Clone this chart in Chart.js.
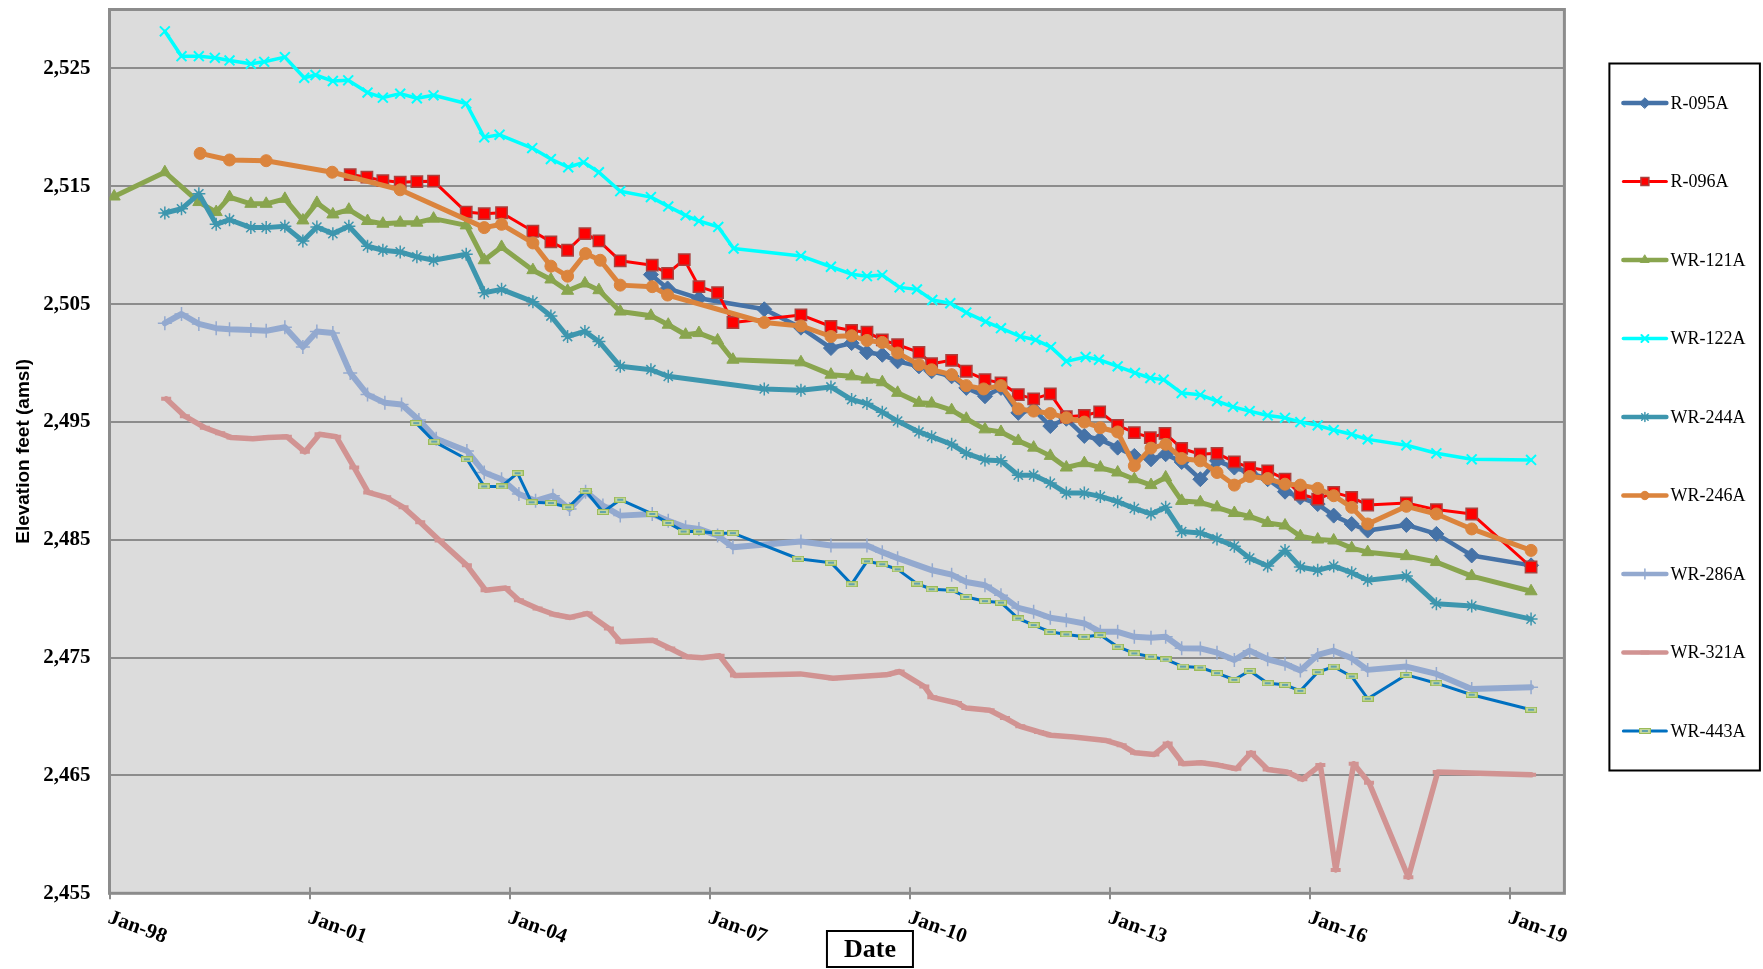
<!DOCTYPE html>
<html>
<head>
<meta charset="utf-8">
<script src="https://cdn.jsdelivr.net/npm/chart.js@4.4.1/dist/chart.umd.min.js"></script>
<style>
  html, body { margin: 0; padding: 0; background: #fff; }
  #wrap { width: 1763px; height: 969px; }
</style>
</head>
<body>
<div id="wrap"><canvas id="elevChart" width="1763" height="969"></canvas></div>
<script>
// axis ticks
const xTickYears = [1998, 2001, 2004, 2007, 2010, 2013, 2016, 2019];
const yTicks = [2455, 2465, 2475, 2485, 2495, 2505, 2515, 2525];
const seriesNames = ['R-095A', 'R-096A', 'WR-121A', 'WR-122A', 'WR-244A', 'WR-246A', 'WR-286A', 'WR-321A', 'WR-443A'];

// dates are decimal years, values are feet amsl
const r095aDates = [2006.12, 2006.37, 2006.84, 2007.82, 2008.37, 2008.82, 2009.13, 2009.36, 2009.59, 2009.82, 2010.14, 2010.33, 2010.63, 2010.85, 2011.13, 2011.37, 2011.63, 2011.86, 2012.11, 2012.35, 2012.62, 2012.85, 2013.12, 2013.37, 2013.62, 2013.84, 2014.08, 2014.36, 2014.61, 2014.87, 2015.10, 2015.37, 2015.63, 2015.86, 2016.12, 2016.36, 2016.63, 2016.87, 2017.45, 2017.90, 2018.43, 2019.32];
const r095aValues = [2507.5, 2506.33, 2505.49, 2504.56, 2503.0, 2501.27, 2501.69, 2500.91, 2500.7, 2500.14, 2499.72, 2499.3, 2498.87, 2497.89, 2497.18, 2497.89, 2495.77, 2496.06, 2494.65, 2495.27, 2493.81, 2493.52, 2492.82, 2492.12, 2491.83, 2492.26, 2491.6, 2490.14, 2491.7, 2491.13, 2490.71, 2490.14, 2489.08, 2488.6, 2488.03, 2487.05, 2486.34, 2485.78, 2486.26, 2485.5, 2483.67, 2482.83];

const r096aDates = [2001.61, 2001.86, 2002.10, 2002.36, 2002.61, 2002.86, 2003.35, 2003.62, 2003.88, 2004.35,
  2004.62, 2004.87, 2005.13, 2005.34, 2005.66, 2006.14, 2006.37, 2006.62, 2006.84, 2007.12,
  2007.35, 2008.37, 2008.82, 2009.13, 2009.36, 2009.59, 2009.82, 2010.14, 2010.33, 2010.63,
  2010.85, 2011.13, 2011.37, 2011.63, 2011.86, 2012.11, 2012.35, 2012.62, 2012.85, 2013.12,
  2013.37, 2013.61, 2013.83, 2014.08, 2014.36, 2014.61, 2014.87, 2015.10, 2015.37, 2015.63,
  2015.86, 2016.12, 2016.36, 2016.63, 2016.87, 2017.45, 2017.90, 2018.43, 2019.32];
const r096aValues = [2515.99, 2515.77, 2515.48, 2515.35, 2515.40, 2515.43, 2512.81, 2512.67, 2512.75, 2511.18,
  2510.28, 2509.57, 2510.98, 2510.36, 2508.67, 2508.30, 2507.60, 2508.78, 2506.48, 2505.97,
  2503.44, 2504.08, 2503.10, 2502.76, 2502.62, 2501.97, 2501.55, 2500.90, 2499.94, 2500.23,
  2499.30, 2498.59, 2498.31, 2497.32, 2496.96, 2497.38, 2495.44, 2495.55, 2495.86, 2494.71,
  2494.09, 2493.67, 2494.03, 2492.75, 2492.26, 2492.34, 2491.61, 2491.13, 2490.85, 2490.14,
  2488.88, 2488.45, 2489.02, 2488.60, 2487.95, 2488.12, 2487.56, 2487.19, 2482.69];

const wr121aDates = [1998.07, 1998.83, 1999.34, 1999.60, 1999.80, 2000.12, 2000.35, 2000.63, 2000.90, 2001.11,
  2001.35, 2001.59, 2001.87, 2002.10, 2002.36, 2002.61, 2002.86, 2003.35, 2003.62, 2003.88,
  2004.35, 2004.62, 2004.87, 2005.13, 2005.34, 2005.66, 2006.12, 2006.38, 2006.64, 2006.84,
  2007.12, 2007.35, 2008.37, 2008.82, 2009.13, 2009.36, 2009.59, 2009.82, 2010.14, 2010.33,
  2010.63, 2010.85, 2011.13, 2011.37, 2011.63, 2011.86, 2012.11, 2012.35, 2012.62, 2012.86,
  2013.12, 2013.37, 2013.62, 2013.84, 2014.08, 2014.36, 2014.61, 2014.87, 2015.10, 2015.37,
  2015.63, 2015.86, 2016.12, 2016.36, 2016.63, 2016.87, 2017.45, 2017.90, 2018.43, 2019.32];
const wr121aValues = [2514.13, 2516.19, 2513.66, 2512.81, 2514.08, 2513.51, 2513.51, 2513.93, 2512.10, 2513.59,
  2512.61, 2513.01, 2512.05, 2511.82, 2511.91, 2511.91, 2512.25, 2511.68, 2508.72, 2509.85,
  2507.88, 2507.09, 2506.13, 2506.75, 2506.18, 2504.37, 2504.01, 2503.25, 2502.40, 2502.54,
  2501.92, 2500.28, 2500.06, 2499.01, 2498.87, 2498.59, 2498.37, 2497.47, 2496.62, 2496.56,
  2496.00, 2495.27, 2494.37, 2494.15, 2493.39, 2492.82, 2492.12, 2491.13, 2491.50, 2491.13,
  2490.71, 2490.14, 2489.64, 2490.29, 2488.30, 2488.18, 2487.75, 2487.27, 2486.99, 2486.43,
  2486.21, 2485.30, 2485.02, 2484.94, 2484.29, 2483.95, 2483.61, 2483.11, 2481.92, 2480.63];

const wr122aDates = [1998.83, 1999.08, 1999.34, 1999.58, 1999.80, 2000.12, 2000.32, 2000.63, 2000.92, 2001.09,
  2001.35, 2001.58, 2001.87, 2002.10, 2002.36, 2002.61, 2002.86, 2003.35, 2003.62, 2003.85,
  2004.34, 2004.62, 2004.88, 2005.11, 2005.34, 2005.66, 2006.12, 2006.38, 2006.64, 2006.84,
  2007.13, 2007.36, 2008.37, 2008.82, 2009.13, 2009.36, 2009.59, 2009.85, 2010.11, 2010.34,
  2010.61, 2010.85, 2011.14, 2011.37, 2011.66, 2011.89, 2012.12, 2012.35, 2012.64, 2012.84,
  2013.12, 2013.38, 2013.61, 2013.81, 2014.08, 2014.36, 2014.61, 2014.85, 2015.10, 2015.37,
  2015.63, 2015.86, 2016.12, 2016.36, 2016.63, 2016.87, 2017.45, 2017.90, 2018.43, 2019.32];
const wr122aValues = [2528.15, 2526.04, 2526.04, 2525.90, 2525.68, 2525.39, 2525.56, 2525.96, 2524.21, 2524.44,
  2523.93, 2523.99, 2522.95, 2522.52, 2522.86, 2522.47, 2522.72, 2522.02, 2519.15, 2519.37,
  2518.24, 2517.31, 2516.61, 2517.03, 2516.19, 2514.58, 2514.08, 2513.29, 2512.53, 2512.05,
  2511.55, 2509.71, 2509.09, 2508.17, 2507.54, 2507.37, 2507.46, 2506.42, 2506.25, 2505.35,
  2505.07, 2504.28, 2503.52, 2502.96, 2502.25, 2501.97, 2501.35, 2500.14, 2500.51, 2500.28,
  2499.72, 2499.16, 2498.73, 2498.59, 2497.45, 2497.30, 2496.77, 2496.28, 2495.92, 2495.55,
  2495.35, 2494.99, 2494.71, 2494.31, 2493.95, 2493.52, 2493.02, 2492.34, 2491.83, 2491.78];

const wr244aDates = [1998.83, 1999.08, 1999.34, 1999.60, 1999.80, 2000.12, 2000.35, 2000.63, 2000.90, 2001.11,
  2001.35, 2001.59, 2001.87, 2002.10, 2002.36, 2002.61, 2002.86, 2003.35, 2003.62, 2003.88,
  2004.35, 2004.62, 2004.87, 2005.13, 2005.34, 2005.66, 2006.12, 2006.38, 2007.82, 2008.37,
  2008.82, 2009.13, 2009.36, 2009.59, 2009.82, 2010.14, 2010.33, 2010.63, 2010.85, 2011.13,
  2011.37, 2011.63, 2011.86, 2012.11, 2012.35, 2012.62, 2012.86, 2013.12, 2013.37, 2013.62,
  2013.84, 2014.08, 2014.36, 2014.61, 2014.87, 2015.10, 2015.37, 2015.63, 2015.86, 2016.12,
  2016.36, 2016.63, 2016.87, 2017.45, 2017.90, 2018.43, 2019.32];
const wr244aValues = [2512.73, 2513.09, 2514.36, 2511.77, 2512.16, 2511.49, 2511.49, 2511.60, 2510.36, 2511.54,
  2510.98, 2511.60, 2509.91, 2509.57, 2509.43, 2509.01, 2508.72, 2509.23, 2505.97, 2506.25,
  2505.21, 2503.99, 2502.25, 2502.68, 2501.83, 2499.72, 2499.43, 2498.87, 2497.80, 2497.69,
  2497.97, 2496.90, 2496.56, 2495.83, 2495.07, 2494.15, 2493.75, 2493.10, 2492.34, 2491.78,
  2491.70, 2490.48, 2490.48, 2489.81, 2488.96, 2488.96, 2488.68, 2488.23, 2487.67, 2487.19,
  2487.75, 2485.70, 2485.58, 2485.07, 2484.46, 2483.44, 2482.77, 2484.10, 2482.69, 2482.41,
  2482.77, 2482.21, 2481.57, 2481.92, 2479.58, 2479.39, 2478.27];

const wr246aDates = [1999.36, 1999.80, 2000.35, 2001.34, 2002.36, 2003.62, 2003.88, 2004.35, 2004.62, 2004.87,
  2005.14, 2005.36, 2005.66, 2006.14, 2006.37, 2007.82, 2008.37, 2008.82, 2009.13, 2009.36,
  2009.59, 2009.82, 2010.14, 2010.33, 2010.63, 2010.85, 2011.11, 2011.37, 2011.63, 2011.86,
  2012.11, 2012.35, 2012.62, 2012.86, 2013.12, 2013.37, 2013.62, 2013.84, 2014.08, 2014.36,
  2014.61, 2014.87, 2015.10, 2015.37, 2015.63, 2015.86, 2016.12, 2016.36, 2016.63, 2016.87,
  2017.45, 2017.90, 2018.43, 2019.32];
const wr246aValues = [2517.79, 2517.23, 2517.17, 2516.19, 2514.70, 2511.49, 2511.77, 2510.19, 2508.22, 2507.37,
  2509.29, 2508.72, 2506.61, 2506.48, 2505.77, 2503.44, 2503.15, 2502.25, 2502.31, 2501.92,
  2501.75, 2500.85, 2499.86, 2499.43, 2499.01, 2498.08, 2497.80, 2498.08, 2496.11, 2495.92,
  2495.72, 2495.35, 2494.99, 2494.51, 2494.15, 2491.28, 2492.78, 2493.10, 2491.90, 2491.70,
  2490.71, 2489.64, 2490.37, 2490.20, 2489.72, 2489.64, 2489.36, 2488.74, 2487.75, 2486.34,
  2487.84, 2487.19, 2485.92, 2484.10];

const wr286aDates = [1998.83, 1999.08, 1999.34, 1999.60, 1999.80, 2000.12, 2000.35, 2000.63, 2000.90, 2001.11,
  2001.35, 2001.61, 2001.87, 2002.13, 2002.38, 2002.64, 2002.90, 2003.36, 2003.62, 2003.88,
  2004.14, 2004.39, 2004.65, 2004.90, 2005.14, 2005.40, 2005.66, 2006.14, 2006.38, 2006.64,
  2006.84, 2007.12, 2007.35, 2008.37, 2008.82, 2009.36, 2009.59, 2009.82, 2010.34, 2010.63,
  2010.85, 2011.13, 2011.37, 2011.63, 2011.86, 2012.11, 2012.35, 2012.62, 2012.86, 2013.12,
  2013.37, 2013.62, 2013.84, 2014.08, 2014.36, 2014.61, 2014.87, 2015.10, 2015.37, 2015.63,
  2015.86, 2016.12, 2016.36, 2016.63, 2016.87, 2017.45, 2017.90, 2018.43, 2019.32];
const wr286aValues = [2503.38, 2504.16, 2503.32, 2502.96, 2502.87, 2502.81, 2502.73, 2503.04, 2501.35, 2502.68,
  2502.54, 2499.16, 2497.32, 2496.62, 2496.48, 2495.16, 2493.58, 2492.54, 2490.71, 2490.14,
  2488.88, 2488.31, 2488.74, 2487.61, 2489.08, 2487.90, 2487.05, 2487.19, 2486.62, 2486.06,
  2485.92, 2485.36, 2484.37, 2484.85, 2484.52, 2484.52, 2483.95, 2483.44, 2482.41, 2482.04,
  2481.42, 2481.14, 2480.29, 2479.22, 2478.89, 2478.38, 2478.18, 2477.90, 2477.19, 2477.19,
  2476.77, 2476.69, 2476.77, 2475.80, 2475.78, 2475.42, 2474.80, 2475.59, 2474.86, 2474.47,
  2473.91, 2475.23, 2475.59, 2474.94, 2473.96, 2474.24, 2473.62, 2472.33, 2472.49];

const wr321aDates = [1998.85, 1999.13, 1999.43, 1999.66, 1999.83, 2000.15, 2000.38, 2000.66, 2000.93, 2001.15,
  2001.40, 2001.67, 2001.88, 2002.15, 2002.41, 2002.66, 2002.95, 2003.36, 2003.64, 2003.94,
  2004.14, 2004.42, 2004.67, 2004.91, 2005.17, 2005.49, 2005.66, 2006.15, 2006.41, 2006.66,
  2006.89, 2007.15, 2007.38, 2008.36, 2008.85, 2009.65, 2009.85, 2010.22, 2010.34, 2010.71,
  2010.85, 2011.20, 2011.43, 2011.66, 2011.94, 2012.12, 2012.46, 2012.95, 2013.18, 2013.38,
  2013.67, 2013.87, 2014.10, 2014.37, 2014.63, 2014.90, 2015.12, 2015.37, 2015.66, 2015.89,
  2016.16, 2016.39, 2016.66, 2016.89, 2017.48, 2017.92, 2019.32];
const wr321aValues = [2496.96, 2495.49, 2494.51, 2494.03, 2493.67, 2493.58, 2493.67, 2493.75, 2492.46, 2493.95,
  2493.75, 2491.13, 2489.02, 2488.60, 2487.75, 2486.49, 2484.93, 2482.83, 2480.72, 2480.91,
  2479.87, 2479.17, 2478.66, 2478.41, 2478.75, 2477.47, 2476.34, 2476.48, 2475.78, 2475.08,
  2474.99, 2475.15, 2473.48, 2473.62, 2473.25, 2473.54, 2473.82, 2472.55, 2471.63, 2471.15,
  2470.72, 2470.53, 2469.88, 2469.17, 2468.69, 2468.41, 2468.27, 2467.96, 2467.57, 2466.92,
  2466.78, 2467.71, 2465.99, 2466.07, 2465.88, 2465.57, 2466.92, 2465.51, 2465.29, 2464.67,
  2465.88, 2456.98, 2465.99, 2464.39, 2456.36, 2465.29, 2465.05];

const wr443aDates = [2002.60, 2002.87, 2003.36, 2003.62, 2003.88, 2004.12, 2004.33, 2004.62, 2004.88, 2005.14,
  2005.40, 2005.66, 2006.14, 2006.38, 2006.61, 2006.84, 2007.12, 2007.35, 2008.33, 2008.82,
  2009.13, 2009.36, 2009.59, 2009.82, 2010.11, 2010.33, 2010.63, 2010.85, 2011.13, 2011.37,
  2011.63, 2011.86, 2012.11, 2012.35, 2012.62, 2012.86, 2013.12, 2013.37, 2013.62, 2013.84,
  2014.10, 2014.36, 2014.61, 2014.87, 2015.10, 2015.37, 2015.63, 2015.86, 2016.12, 2016.36,
  2016.63, 2016.87, 2017.45, 2017.90, 2018.43, 2019.32];
const wr443aValues = [2494.90, 2493.33, 2491.83, 2489.53, 2489.53, 2490.65, 2488.18, 2488.12, 2487.75, 2489.16,
  2487.36, 2488.40, 2487.19, 2486.43, 2485.70, 2485.70, 2485.56, 2485.56, 2483.39, 2483.06,
  2481.23, 2483.17, 2482.92, 2482.49, 2481.28, 2480.80, 2480.72, 2480.15, 2479.79, 2479.67,
  2478.32, 2477.76, 2477.19, 2476.97, 2476.77, 2476.91, 2475.93, 2475.36, 2475.08, 2474.85,
  2474.24, 2474.16, 2473.68, 2473.12, 2473.88, 2472.83, 2472.69, 2472.18, 2473.76, 2474.24,
  2473.40, 2471.51, 2473.54, 2472.83, 2471.85, 2470.58];

const serif = '"Liberation Serif", "Times New Roman", serif';

// little green dash used as the WR-443A marker
function dashMarker() {
    const c = document.createElement('canvas');
    c.width = 12; c.height = 6;
    const g = c.getContext('2d');
    g.fillStyle = '#c4d79b';
    g.fillRect(0.5, 0.5, 11, 5);
    g.strokeStyle = '#9bbb59';
    g.lineWidth = 1;
    g.strokeRect(0.5, 0.5, 11, 5);
    g.fillStyle = '#0070c0';
    g.fillRect(3, 2.5, 6, 1);
    return c;
}

const seriesData = [
    [r095aDates, r095aValues], [r096aDates, r096aValues], [wr121aDates, wr121aValues],
    [wr122aDates, wr122aValues], [wr244aDates, wr244aValues], [wr246aDates, wr246aValues],
    [wr286aDates, wr286aValues], [wr321aDates, wr321aValues], [wr443aDates, wr443aValues]
];

const looks = [
    { color: '#4572a7', width: 4.5, style: 'rectRot', r: 7.5, fill: '#4572a7', edge: '#4572a7', edgeW: 1 },
    { color: '#ff0000', width: 3, style: 'rect', r: 8, fill: '#ff0000', edge: '#a8423f', edgeW: 1.5 },
    { color: '#89a54e', width: 5, style: 'triangle', r: 7, fill: '#89a54e', edge: '#89a54e', edgeW: 1 },
    { color: '#00ffff', width: 3.5, style: 'crossRot', r: 7, fill: '#00ffff', edge: '#00ffff', edgeW: 2 },
    { color: '#3d96ae', width: 5, style: 'star', r: 6.5, fill: '#3d96ae', edge: '#3d96ae', edgeW: 1.5 },
    { color: '#db843d', width: 5, style: 'circle', r: 6, fill: '#db843d', edge: '#db843d', edgeW: 1 },
    { color: '#93a9cf', width: 6, style: 'cross', r: 7, fill: '#93a9cf', edge: '#93a9cf', edgeW: 1.5 },
    { color: '#d19392', width: 5.5, style: 'line', r: 5, fill: '#d19392', edge: '#d19392', edgeW: 4 },
    { color: '#0070c0', width: 3, style: dashMarker(), r: 6, fill: '#c4d79b', edge: '#9bbb59', edgeW: 1 }
];

const datasets = seriesNames.map((name, i) => {
    const [dates, vals] = seriesData[i];
    const lk = looks[i];
    return {
        label: name,
        data: dates.map((d, j) => ({ x: d, y: vals[j] })),
        showLine: true,
        tension: 0,
        borderColor: lk.color,
        backgroundColor: lk.color,
        borderWidth: lk.width,
        borderJoinStyle: 'round',
        borderCapStyle: 'round',
        pointStyle: lk.style,
        pointRadius: lk.r,
        pointBackgroundColor: lk.fill,
        pointBorderColor: lk.edge,
        pointBorderWidth: lk.edgeW,
        order: seriesNames.length - i   // later series drawn on top, as in the original
    };
});

const frame = {
    id: 'frame',
    beforeDraw(chart) {
        const { ctx, chartArea: a } = chart;
        ctx.save();
        ctx.fillStyle = '#ffffff';
        ctx.fillRect(0, 0, chart.width, chart.height);
        ctx.fillStyle = '#dcdcdc';
        ctx.fillRect(a.left, a.top, a.right - a.left, a.bottom - a.top);
        ctx.restore();
    },
    beforeDatasetsDraw(chart) {
        const { ctx, chartArea: a, scales } = chart;
        ctx.save();
        ctx.strokeStyle = '#8c8c8c';
        ctx.lineWidth = 3;
        ctx.strokeRect(a.left, a.top, a.right - a.left, a.bottom - a.top);
        ctx.lineWidth = 2;
        xTickYears.forEach(yr => {
            const x = Math.round(scales.x.getPixelForValue(yr));
            ctx.beginPath();
            ctx.moveTo(x, a.bottom - 6);
            ctx.lineTo(x, a.bottom + 6);
            ctx.stroke();
        });
        ctx.restore();
    },
    afterDraw(chart) {
        const { ctx, chartArea: a, scales } = chart;
        ctx.save();
        ctx.fillStyle = '#000';

        // slanted date labels
        ctx.font = 'bold 21px ' + serif;
        ctx.textAlign = 'left';
        ctx.textBaseline = 'top';
        xTickYears.forEach(yr => {
            const x = scales.x.getPixelForValue(yr);
            ctx.save();
            ctx.translate(x + 3, a.bottom + 14);
            ctx.rotate(20 * Math.PI / 180);
            ctx.fillText('Jan-' + String(yr % 100).padStart(2, '0'), 0, 0);
            ctx.restore();
        });

        // y title
        ctx.save();
        ctx.translate(24, (a.top + a.bottom) / 2);
        ctx.rotate(-Math.PI / 2);
        ctx.font = 'bold 19px "Liberation Sans", Arial, sans-serif';
        ctx.textAlign = 'center';
        ctx.textBaseline = 'middle';
        ctx.fillText('Elevation feet (amsl)', 0, 0);
        ctx.restore();

        // boxed x title
        const cx = (a.left + a.right) / 2 + 33;
        ctx.strokeStyle = '#000';
        ctx.lineWidth = 2;
        ctx.strokeRect(cx - 43, 931, 86, 36);
        ctx.font = 'bold 26px ' + serif;
        ctx.textAlign = 'center';
        ctx.textBaseline = 'middle';
        ctx.fillText('Date', cx, 950);

        // legend
        const lx = a.right + 45, ly = 63.5, lw = 150.5, lh = 707;
        ctx.lineWidth = 2;
        ctx.strokeRect(lx, ly, lw, lh);
        ctx.font = '18px ' + serif;
        ctx.textAlign = 'left';
        datasets.forEach((ds, i) => {
            const y = ly + 39.5 + i * 78.5;
            ctx.strokeStyle = ds.borderColor;
            ctx.lineWidth = Math.min(ds.borderWidth, 4.5);
            ctx.lineCap = 'round';
            ctx.beginPath();
            ctx.moveTo(lx + 14, y);
            ctx.lineTo(lx + 57, y);
            ctx.stroke();
            if (Chart.helpers && Chart.helpers.drawPoint) {
                ctx.fillStyle = ds.pointBackgroundColor;
                ctx.strokeStyle = ds.pointBorderColor;
                ctx.lineWidth = ds.pointBorderWidth;
                Chart.helpers.drawPoint(ctx, {
                    pointStyle: ds.pointStyle, radius: ds.pointRadius * 0.7,
                    rotation: 0, borderWidth: ds.pointBorderWidth
                }, lx + 35.5, y);
            }
            ctx.fillStyle = '#000';
            ctx.textBaseline = 'middle';
            ctx.fillText(ds.label, lx + 61, y + 1);
        });
        ctx.restore();
    }
};

window.addEventListener('DOMContentLoaded', () => {
    const ctx = document.getElementById('elevChart').getContext('2d');
    new Chart(ctx, {
        type: 'scatter',
        data: { datasets },
        options: {
            responsive: false,
            animation: false,
            events: [],
            layout: { padding: { top: 4.8, right: 198.6, bottom: 0, left: 0 } },
            plugins: { legend: { display: false }, tooltip: { enabled: false } },
            scales: {
                x: {
                    type: 'linear',
                    min: 1998,
                    max: 2019.82,
                    grid: { display: false },
                    border: { display: false },
                    ticks: { display: false },
                    afterFit: s => { s.height = 75.7; s.paddingLeft = 0; s.paddingRight = 0; }
                },
                y: {
                    min: 2455,
                    max: 2530,
                    afterBuildTicks: s => { s.ticks = yTicks.map(v => ({ value: v })); },
                    afterFit: s => { s.width = 109.5; s.paddingTop = 0; s.paddingBottom = 0; },
                    grid: { color: '#8c8c8c', lineWidth: 2, drawTicks: false },
                    border: { display: false },
                    ticks: {
                        padding: 19,
                        color: '#000',
                        font: { family: serif, size: 21, weight: 'bold' },
                        callback: v => v.toLocaleString('en-US')
                    }
                }
            }
        },
        plugins: [frame]
    });
});
</script>
</body>
</html>
